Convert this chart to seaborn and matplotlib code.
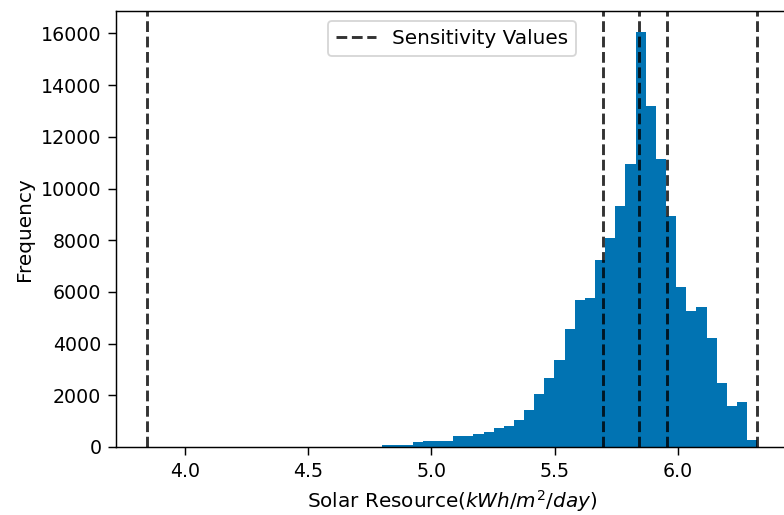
import numpy as np
import pandas as pd
import matplotlib
matplotlib.use("Agg")
import matplotlib.pyplot as plt
import seaborn as sns

# Histogram bins (37 equal bins between these limits) and counts per bin
bin_start = 4.80
bin_stop = 6.322
n_bins = 37
counts = [91, 91, 91, 175, 250, 250, 250, 407, 407, 500,
          585, 732, 815, 1050, 1437, 2060, 2672, 3370, 4550, 5693,
          5770, 7240, 8085, 9342, 10961, 16064, 13197, 11128, 8940, 6207,
          5281, 5436, 4214, 2494, 1569, 1735, 258]

# Sensitivity values (vertical dashed lines)
sensitivity_values = [3.844, 5.698, 5.842, 5.958, 6.323]

xlabel = r"Solar Resource($kWh/m^2/day$)"
ylabel = "Frequency"
legend_label = "Sensitivity Values"

edges = np.linspace(bin_start, bin_stop, n_bins + 1)
centers = (edges[:-1] + edges[1:]) / 2
df = pd.DataFrame({"value": centers, "count": np.asarray(counts, dtype=float)})

dpi = 784 / 6.0
fig = plt.figure(figsize=(6.0, 515 / dpi), dpi=dpi)
ax = fig.add_axes([116 / 784, (515 - 447) / 515, (788 - 116) / 784, (447 - 11) / 515])

sns.histplot(data=df, x="value", weights="count", bins=list(edges),
             color="#0173B2", alpha=1.0, linewidth=0, ax=ax)

for i, v in enumerate(sensitivity_values):
    ax.axvline(v, color="k", alpha=0.8, linestyle="--", linewidth=1.6,
               label=legend_label if i == 0 else None)

ax.set_xlim(3.72, 6.447)
ax.set_ylim(0, 16870)
ax.set_xlabel(xlabel, fontsize=11)
ax.set_ylabel(ylabel, fontsize=11)
ax.tick_params(labelsize=10.5, length=4.5)
ax.legend(loc="upper center", fontsize=11)

fig.savefig("out.png", dpi=dpi)
